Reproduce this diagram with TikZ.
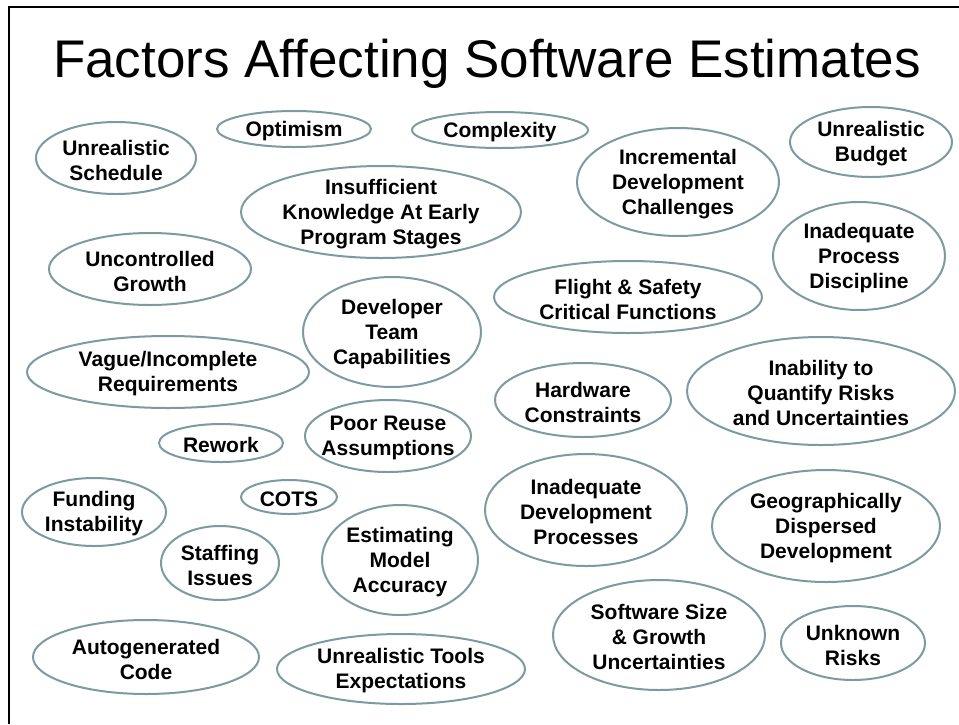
\documentclass[tikz,border=0pt]{standalone}
\usepackage{fontspec}
\setmainfont{Liberation Sans}
\usetikzlibrary{shapes.geometric}
\definecolor{ringcol}{RGB}{125,155,158}
\tikzset{
  ring/.style={draw=ringcol, line width=2pt, ellipse, inner sep=0pt},
  lbl/.style={font=\fontsize{21}{25}\selectfont\bfseries, align=center, inner sep=0pt, text=black, yshift=-2pt},
  ttl/.style={font=\fontsize{53}{60}\selectfont, inner sep=0pt, anchor=base}
}
\newcommand{\fac}[6]{%
  \node[ring, minimum width=#4pt, minimum height=#5pt] (e#1) at (#2,#3) {};
  \node[lbl] (t#1) at (e#1.center) {#6};}
\begin{document}
\begin{tikzpicture}[x=1pt,y=-1pt]
\useasboundingbox (0,0) rectangle (959,724);
\fill[white] (0,0) rectangle (959,724);
\coordinate (fa) at (8.5,724);
\coordinate (fb) at (8.5,6.5);
\coordinate (fc) at (959,6.5);
\draw[line width=2pt] (fa) -- (fb) -- (fc);
\node[ttl] (title) at (487,77) {Factors Affecting Software Estimates};
\fac{1}{116}{158}{160}{72}{Unrealistic\\Schedule}
\fac{2}{294}{129}{154}{36}{Optimism}
\fac{3}{500}{130}{176}{36}{Complexity}
\fac{4}{381}{212}{280}{92}{Insufficient\\Knowledge At Early\\Program Stages}
\fac{5}{678}{182}{202}{108}{Incremental\\Development\\Challenges}
\fac{6}{871}{142}{162}{70}{Unrealistic\\Budget}
\fac{7}{859}{256}{172}{108}{Inadequate\\Process\\Discipline}
\fac{8}{150}{269}{202}{72}{Uncontrolled\\Growth}
\fac{9}{628}{297}{268}{72}{Flight \& Safety\\Critical Functions}
\fac{10}{392}{332}{178}{110}{Developer\\Team\\Capabilities}
\fac{11}{168}{372}{282}{72}{Vague/Incomplete\\Requirements}
\fac{12}{583}{400}{176}{74}{Hardware\\Constraints}
\fac{13}{821}{391}{268}{108}{Inability to\\Quantify Risks\\and Uncertainties}
\fac{14}{221}{443}{124}{38}{Rework}
\fac{15}{388}{436}{166}{72}{Poor Reuse\\Assumptions}
\fac{16}{94}{512}{144}{68}{Funding\\Instability}
\fac{17}{289}{497}{96}{34}{COTS}
\fac{18}{220}{563}{118}{74}{Staffing\\Issues}
\fac{19}{400}{560}{156}{110}{Estimating\\Model\\Accuracy}
\fac{20}{586}{510}{202}{112}{Inadequate\\Development\\Processes}
\fac{21}{826}{526}{228}{112}{Geographically\\Dispersed\\Development}
\fac{22}{146}{657}{226}{74}{Autogenerated\\Code}
\fac{23}{401}{669}{248}{70}{Unrealistic Tools\\Expectations}
\fac{24}{659}{635}{212}{110}{Software Size\\\& Growth\\Uncertainties}
\fac{25}{853}{643}{144}{74}{Unknown\\Risks}
\end{tikzpicture}
\end{document}
